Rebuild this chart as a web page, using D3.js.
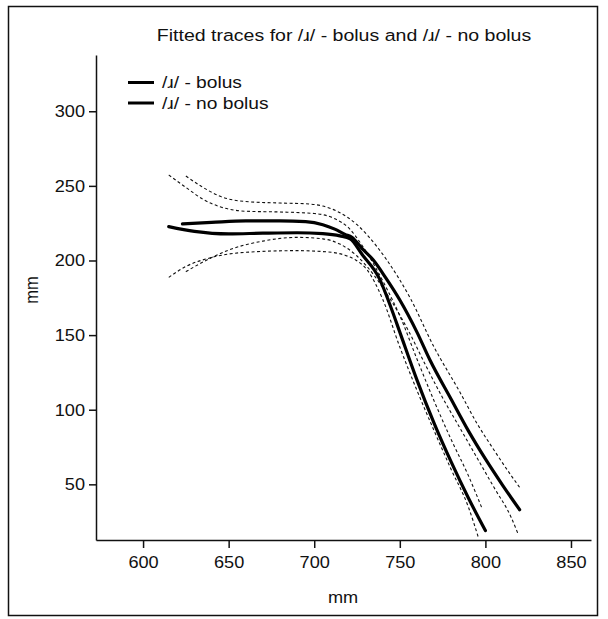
<!DOCTYPE html>
<html>
<head>
<meta charset="utf-8">
<script src="https://cdn.jsdelivr.net/npm/d3@7"></script>
<style>
  body { margin: 0; background: #fff; }
  text { font-family: "Liberation Sans", Arial, Helvetica, sans-serif; fill: #111; }
</style>
</head>
<body>
<div id="graph"></div>
<script>
'use strict';

// fitted trace (mean) and confidence bands, in mm
var bolusX      = [615, 630, 650, 670, 690, 705, 715, 721, 728, 738, 745, 750, 760, 770, 780, 790, 800];
var bolusY      = [222.7, 219.5, 217.8, 218.3, 218.6, 218, 216.5, 214.5, 204, 188, 168, 152, 120, 91, 65, 41, 19];
var bolusUpX    = [615, 625, 635, 645, 660, 680, 700, 712, 720, 728, 735, 742, 750, 760, 770, 780, 790, 798];
var bolusUpY    = [257.3, 249, 241, 236, 233, 232.5, 231.5, 228, 222, 210, 197, 182, 163, 134, 106, 80, 56, 34];
var bolusLoX    = [615, 625, 640, 660, 690, 710, 718, 724, 731, 740, 750, 760, 770, 780, 790, 796];
var bolusLoY    = [188.7, 196, 202, 205.5, 206.6, 205.5, 203.5, 200.5, 193.5, 174, 142, 113, 86, 60, 35, 14];

var noBolusX    = [623, 640, 660, 680, 695, 705, 712, 718, 722, 728, 734.5, 742, 750, 760, 767.6, 780, 790, 800, 810, 820];
var noBolusY    = [224.5, 225.5, 226.5, 226.5, 226, 224, 221, 217.5, 215.5, 208, 200.3, 188, 173.5, 152, 133.3, 107, 86, 67, 49.5, 33];
var noBolusUpX  = [625, 635, 645, 660, 680, 695, 705, 715, 725, 731, 742, 756, 770, 785, 795, 805, 815, 820];
var noBolusUpY  = [256.6, 249, 243, 239.5, 238.5, 238, 236.5, 232, 224, 217, 201, 175, 142, 112, 91, 73, 56, 48];
var noBolusLoX  = [625, 635, 650, 670, 690, 705, 715, 725, 735, 745, 755, 765, 775, 785, 795, 805, 815, 819];
var noBolusLoY  = [192.5, 199, 207, 213, 215.5, 214.5, 211, 203, 190, 173, 153, 130, 108, 88, 68, 48, 28, 17];

var xTicks = [600, 650, 700, 750, 800, 850];
var yTicks = [50, 100, 150, 200, 250, 300];
var legendLabels = ['/\u0279/ - bolus', '/\u0279/ - no bolus'];
var title = 'Fitted traces for /\u0279/ - bolus and /\u0279/ - no bolus';

var W = 608, H = 619;
var padl = 96, padr = 17, padt = 55, padb = 79;

var x = d3.scaleLinear().domain([572.5, 861.7]).range([padl, W - padr]),
    y = d3.scaleLinear().domain([12.7, 337.7]).range([H - padb, padt]);

var svg = d3.select('#graph')
  .append('svg')
  .attr('width', W)
  .attr('height', H);

// outer frame
svg.append('rect')
  .attr('x', 8.5).attr('y', 6.5)
  .attr('width', 589).attr('height', 609)
  .attr('fill', 'none')
  .attr('stroke', '#111')
  .attr('stroke-width', 1.5);

// the scanned print is a little wider than it is tall, so text is stretched sideways
svg.append('text')
  .attr('transform', 'translate(344,41) scale(1.15,1)')
  .attr('text-anchor', 'middle')
  .style('font-size', '17px')
  .text(title);

// axes
var yAxis = d3.axisLeft(y).tickValues(yTicks).tickSize(7).tickSizeOuter(0).tickPadding(4),
    xAxis = d3.axisBottom(x).tickValues(xTicks).tickSize(8).tickSizeOuter(0).tickPadding(8);

var gy = svg.append('g')
  .attr('transform', 'translate(' + padl + ',0)')
  .call(yAxis);

var gx = svg.append('g')
  .attr('transform', 'translate(0,' + (H - padb) + ')')
  .call(xAxis);

[gx, gy].forEach(function (g) {
  g.selectAll('path, line').attr('stroke', '#111').attr('stroke-width', 1.5);
  g.selectAll('text')
    .style('font-size', '16.5px')
    .style('font-family', '"Liberation Sans", Arial, sans-serif')
    .attr('fill', '#111')
    .attr('transform', 'scale(1.1,1)');
});
gy.selectAll('text').attr('x', -10);

svg.append('text')
  .attr('transform', 'translate(343,603) scale(1.1,1)')
  .attr('text-anchor', 'middle')
  .style('font-size', '16.5px')
  .text('mm');

svg.append('text')
  .attr('transform', 'translate(38,290) rotate(-90) scale(1,1.1)')
  .attr('text-anchor', 'middle')
  .style('font-size', '16.5px')
  .text('mm');

// traces
var line = d3.line()
  .x(function (d) { return x(d[0]); })
  .y(function (d) { return y(d[1]); })
  .curve(d3.curveMonotoneX);

var bands = [[bolusUpX, bolusUpY], [bolusLoX, bolusLoY], [noBolusUpX, noBolusUpY], [noBolusLoX, noBolusLoY]];
var means = [[bolusX, bolusY], [noBolusX, noBolusY]];

svg.selectAll('path.band')
  .data(bands)
  .enter().append('path')
  .attr('class', 'band')
  .attr('d', function (d) { return line(d3.zip(d[0], d[1])); })
  .attr('fill', 'none')
  .attr('stroke', '#111')
  .attr('stroke-width', 1.1)
  .attr('stroke-dasharray', '3,2.5');

svg.selectAll('path.mean')
  .data(means)
  .enter().append('path')
  .attr('class', 'mean')
  .attr('d', function (d) { return line(d3.zip(d[0], d[1])); })
  .attr('fill', 'none')
  .attr('stroke', '#000')
  .attr('stroke-width', 3.2)
  .attr('stroke-linecap', 'round');

// legend
var leg = svg.selectAll('g.legend')
  .data(legendLabels)
  .enter().append('g')
  .attr('class', 'legend')
  .attr('transform', function (d, i) { return 'translate(128,' + (82.5 + i * 20.5) + ')'; });

leg.append('line')
  .attr('x1', 0).attr('x2', 26)
  .attr('stroke', '#000')
  .attr('stroke-width', 3);

leg.append('text')
  .attr('transform', 'translate(34,5.5) scale(1.2,1)')
  .style('font-size', '16px')
  .text(function (d) { return d; });
</script>
</body>
</html>
